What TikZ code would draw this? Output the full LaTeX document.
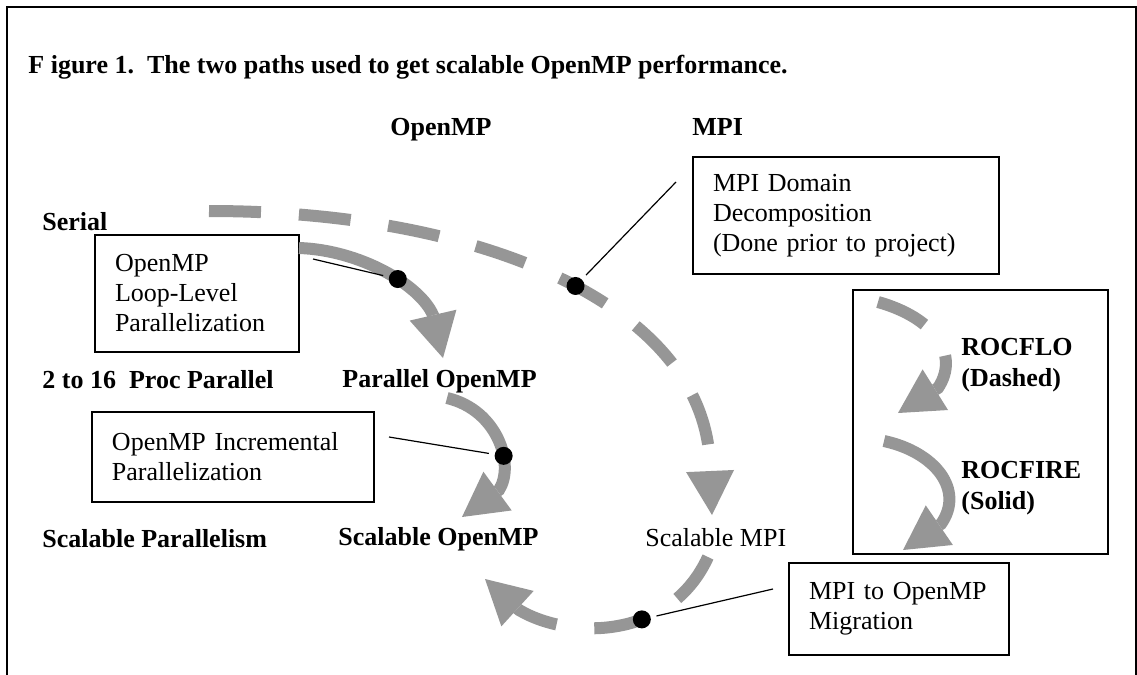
\documentclass[tikz,border=0pt]{standalone}
\usepackage{fontspec}
\setmainfont{Liberation Serif}
\usetikzlibrary{arrows.meta}
\definecolor{arcgray}{RGB}{150,150,150}

\tikzset{
  lbl/.style={anchor=base west, inner sep=0pt, font=\fontsize{13}{15}\selectfont},
  blbl/.style={lbl, font=\fontsize{13}{15}\selectfont\bfseries},
  infobox/.style={draw, line width=0.8pt, align=left, inner xsep=10pt, inner ysep=0pt, font=\fontsize{13}{15}\selectfont},
  dot/.style={circle, fill=black, inner sep=0pt, minimum size=9pt},
  leader/.style={line width=0.6pt},
  flow/.style={arcgray, line width=6pt, -{Triangle[length=22pt,width=24pt,line width=0pt]}},
  dashflow/.style={flow, dash pattern=on 26pt off 19pt},
}

\begin{document}
\begin{tikzpicture}[x=0.5pt,y=-0.5pt]
  \useasboundingbox (0,0) rectangle (1137,675);
  \draw[line width=1pt] (7,675) -- (7,7) -- (1136,7) -- (1136,675);

  % labels
  \node[blbl] (title) at (28,73) {F igure 1.\ \ The two paths used to get scalable OpenMP performance.};
  \node[blbl] (colomp) at (390,135) {OpenMP};
  \node[blbl] (colmpi) at (692,135) {MPI};
  \node[blbl] (serial) at (42,230) {Serial};
  \node[blbl] (proc) at (42,388) {2 to 16\ \ Proc Parallel};
  \node[blbl] (scalpar) at (42,547) {Scalable Parallelism};
  \node[blbl] (paromp) at (342,387) {Parallel OpenMP};
  \node[blbl] (scalomp) at (338,545) {Scalable OpenMP};
  \node[lbl] (scalmpi) at (645,546) {Scalable MPI};

  % boxes
  \node[infobox, text width=82pt, minimum height=58.5pt] (looplevel) at (197,293.5) {OpenMP\\Loop-Level\\Parallelization};
  \node[infobox, text width=121pt, minimum height=45pt] (incr) at (233,457) {OpenMP Incremental\\Parallelization};
  \node[infobox, text width=133pt, minimum height=58.5pt] (domain) at (846,215.5) {MPI Domain\\Decomposition\\(Done prior to project)};
  \node[infobox, text width=90pt, minimum height=46pt] (migr) at (899,609) {MPI to OpenMP\\Migration};
  \node[draw, line width=0.8pt, minimum width=127.5pt, minimum height=132pt, inner sep=0pt] (legend) at (980.5,422) {};
  \node[blbl] (rocflo) at (961,355) {ROCFLO};
  \node[blbl] (dashed) at (961,386) {(Dashed)};
  \node[blbl] (rocfire) at (961,478) {ROCFIRE};
  \node[blbl] (solid) at (961,509) {(Solid)};

  % paths
  \draw[dashflow] (209,211) .. controls (490,211) and (710,310) .. (710,470) node[dot, pos=0.52] (dmpi) {} -- (712,515);
  \draw[dashflow] (708,557) .. controls (670,640) and (570,640) .. (519,610) node[dot, pos=0.39] (dmig) {} -- (485,579);
  \draw[flow] (299,248) .. controls (360,250) and (420,285) .. (433,315) node[dot, pos=0.6] (dloop) {} -- (443,358);
  \draw[flow] (447,398) .. controls (498,410) and (515,465) .. (499,490) node[dot, pos=0.65] (dincr) {} -- (462,517);
  \draw[dashflow] (878,302) .. controls (935,318) and (960,355) .. (938,388) -- (898,413);
  \draw[flow] (884,441) .. controls (935,452) and (965,490) .. (941,524) -- (903,550);

  % leaders
  \coordinate (lloop) at (313,259);
  \coordinate (lincr) at (389,437);
  \coordinate (ldom) at (676,182);
  \coordinate (lmig) at (773,589);
  \draw[leader] (lloop) -- (dloop);
  \draw[leader] (lincr) -- (dincr);
  \draw[leader] (ldom) -- (dmpi);
  \draw[leader] (lmig) -- (dmig);
\end{tikzpicture}
\end{document}
